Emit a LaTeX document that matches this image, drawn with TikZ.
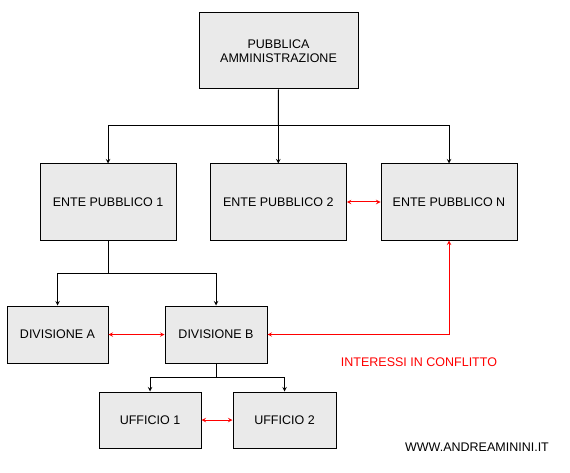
\documentclass[tikz,border=0pt]{standalone}
\usepackage{fontspec}
\setmainfont{Liberation Sans}
\usepackage{tikz}
\definecolor{boxgray}{RGB}{234,234,234}

\begin{document}
\begin{tikzpicture}[x=1pt,y=1pt,>=stealth]
        \tikzstyle{every node}+=[inner sep=0pt, font=\fontsize{12.5}{14.5}\selectfont]
        \tikzstyle{ente}=[draw=black, line width=1pt, fill=boxgray, align=center]
        \tikzstyle{tree}=[black, line width=1pt]
        \tikzstyle{conflict}=[red, line width=1pt, <->]
        \useasboundingbox (0,0) rectangle (570,-473);
        \node [ente, minimum width=159, minimum height=76] (pa) at (278.5,-51) {PUBBLICA\\AMMINISTRAZIONE};
        \node [ente, minimum width=136, minimum height=76] (ep1) at (108,-202) {ENTE PUBBLICO 1};
        \node [ente, minimum width=136, minimum height=76] (ep2) at (278.3,-202) {ENTE PUBBLICO 2};
        \node [ente, minimum width=136, minimum height=76] (epn) at (449,-202) {ENTE PUBBLICO N};
        \node [ente, minimum width=101, minimum height=57] (diva) at (57.5,-334.5) {DIVISIONE A};
        \node [ente, minimum width=102, minimum height=57] (divb) at (216,-334.5) {DIVISIONE B};
        \node [ente, minimum width=102, minimum height=56] (uff1) at (150,-420) {UFFICIO 1};
        \node [ente, minimum width=103, minimum height=56] (uff2) at (284.5,-420) {UFFICIO 2};
        \coordinate (bus1) at (278.3,-126);
        \coordinate (bus2) at (108,-273);
        \coordinate (bus3) at (216,-377);
        % albero
        \draw [tree] (pa.south) -- (bus1);
        \draw [tree, ->] (bus1) -| (ep1.north);
        \draw [tree, ->] (bus1) -- (ep2.north);
        \draw [tree, ->] (bus1) -| (epn.north);
        \draw [tree] (ep1.south) -- (bus2);
        \draw [tree, ->] (bus2) -| (diva.north);
        \draw [tree, ->] (bus2) -| (divb.north);
        \draw [tree] (divb.south) -- (bus3);
        \draw [tree, ->] (bus3) -| (uff1.north);
        \draw [tree, ->] (bus3) -| (uff2.north);
        % conflitti
        \draw [conflict] (ep2.east) -- (epn.west);
        \draw [conflict] (diva.east) -- (divb.west);
        \draw [conflict] (divb.east) -| (epn.south);
        \draw [conflict] (uff1.east) -- (uff2.west);
        \node [text=red] (conf) at (419,-362) {INTERESSI IN CONFLITTO};
        \node (sito) at (477,-447) {WWW.ANDREAMININI.IT};
\end{tikzpicture}
\end{document}
